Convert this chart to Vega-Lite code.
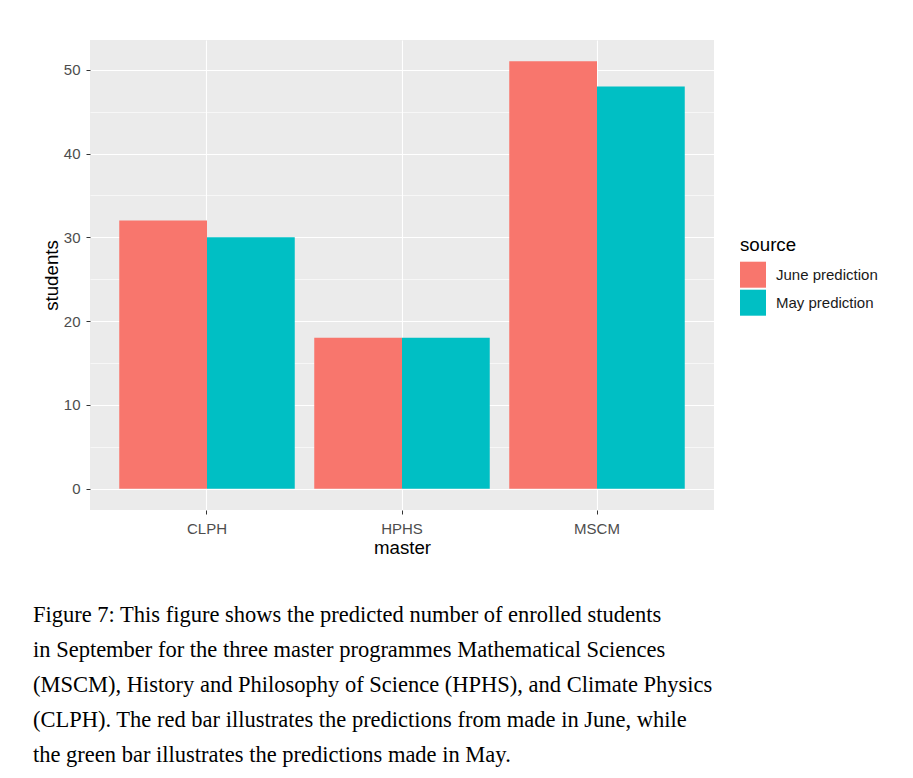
{
  "$schema": "https://vega.github.io/schema/vega-lite/v6.json",
  "autosize": "none",
  "width": 624,
  "height": 470,
  "padding": {"left": 90, "top": 40, "right": 199, "bottom": 268},
  "background": "white",
  "data": {
    "values": [
      {"master": "CLPH", "source": "June prediction", "students": 32},
      {"master": "CLPH", "source": "May prediction", "students": 30},
      {"master": "HPHS", "source": "June prediction", "students": 18},
      {"master": "HPHS", "source": "May prediction", "students": 18},
      {"master": "MSCM", "source": "June prediction", "students": 51},
      {"master": "MSCM", "source": "May prediction", "students": 48}
    ]
  },
  "title": {
    "text": [
      "Figure 7:  This figure shows the predicted number of enrolled students",
      "in September for the three master programmes Mathematical Sciences",
      "(MSCM), History and Philosophy of Science (HPHS), and Climate Physics",
      "(CLPH). The red bar illustrates the predictions from made in June, while",
      "the green bar illustrates the predictions made in May."
    ],
    "orient": "bottom",
    "anchor": "start",
    "frame": "group",
    "dx": -57,
    "offset": 47,
    "font": "Liberation Serif",
    "fontSize": 22.5,
    "fontWeight": "normal",
    "lineHeight": 35,
    "color": "#000000"
  },
  "layer": [
    {
      "mark": {"type": "bar", "opacity": 0},
      "encoding": {
        "x": {"field": "master", "type": "nominal"},
        "y": {
          "field": "students",
          "type": "quantitative",
          "axis": {
            "orient": "left",
            "values": [5, 15, 25, 35, 45],
            "grid": true,
            "gridColor": "#FFFFFF",
            "gridWidth": 0.6,
            "labels": false,
            "ticks": false,
            "domain": false,
            "title": null
          }
        }
      }
    },
    {
      "mark": {"type": "bar"},
      "encoding": {
        "x": {
          "field": "master",
          "type": "nominal",
          "sort": ["CLPH", "HPHS", "MSCM"],
          "scale": {"paddingInner": 0.1, "paddingOuter": 0.15},
          "axis": {
            "title": "master",
            "labelAngle": 0,
            "labelAlign": "center",
            "bandPosition": 0.5,
            "grid": true,
            "gridColor": "#FFFFFF",
            "gridWidth": 1.1,
            "domain": false,
            "tickSize": 4,
            "tickColor": "#333333",
            "labelPadding": 14,
            "titlePadding": 2
          }
        },
        "xOffset": {
          "field": "source",
          "type": "nominal",
          "scale": {"paddingInner": 0, "paddingOuter": 0}
        },
        "y": {
          "field": "students",
          "type": "quantitative",
          "scale": {"domain": [-2.55, 53.55], "nice": false, "zero": false},
          "axis": {
            "orient": "left",
            "title": "students",
            "values": [0, 10, 20, 30, 40, 50],
            "grid": true,
            "gridColor": "#FFFFFF",
            "gridWidth": 1.1,
            "domain": false,
            "tickSize": 4,
            "tickColor": "#333333",
            "labelPadding": 6,
            "titlePadding": 2
          }
        },
        "color": {
          "field": "source",
          "type": "nominal",
          "scale": {
            "domain": ["June prediction", "May prediction"],
            "range": ["#F8766D", "#00BFC4"]
          },
          "legend": {
            "title": "source",
            "orient": "none",
            "legendX": 650,
            "legendY": 196,
            "symbolType": "square",
            "symbolSize": 676,
            "symbolStrokeWidth": 0,
            "symbolOpacity": 1,
            "rowPadding": 2,
            "labelOffset": 10,
            "labelBaseline": "middle",
            "titlePadding": 7
          }
        }
      }
    }
  ],
  "resolve": {"axis": {"y": "independent"}},
  "config": {
    "font": "Liberation Sans",
    "view": {"fill": "#EBEBEB", "stroke": null},
    "axis": {
      "labelFont": "Liberation Sans",
      "labelFontSize": 15,
      "labelColor": "#4D4D4D",
      "titleFont": "Liberation Sans",
      "titleFontSize": 18.7,
      "titleFontWeight": "normal",
      "titleColor": "#000000"
    },
    "legend": {
      "titleFont": "Liberation Sans",
      "titleFontSize": 18.7,
      "titleFontWeight": "normal",
      "titleColor": "#000000",
      "labelFont": "Liberation Sans",
      "labelFontSize": 15,
      "labelColor": "#1A1A1A"
    }
  }
}
